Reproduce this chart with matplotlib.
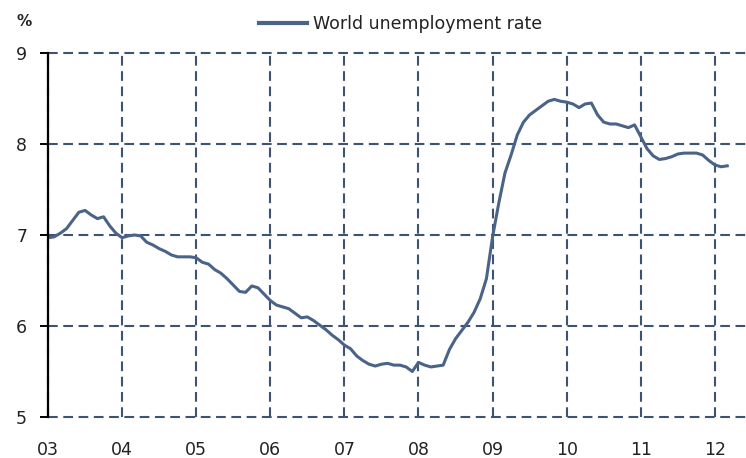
import matplotlib
matplotlib.use("Agg")
import matplotlib.pyplot as plt
import numpy as np

plt.rcParams["font.family"] = ["DejaVu Sans"]
plt.rcParams["lines.scale_dashes"] = False

# Monthly world unemployment rate (%), Jan 2003 onwards
rate = [
    6.97, 6.98, 7.02, 7.07, 7.16, 7.25, 7.27, 7.22, 7.18, 7.20, 7.10, 7.02,   # 2003
    6.97, 6.99, 7.00, 6.99, 6.92, 6.89, 6.85, 6.82, 6.78, 6.76, 6.76, 6.76,   # 2004
    6.75, 6.70, 6.68, 6.62, 6.58, 6.52, 6.45, 6.38, 6.37, 6.44, 6.42, 6.35,   # 2005
    6.28, 6.23, 6.21, 6.19, 6.14, 6.09, 6.10, 6.06, 6.01, 5.96, 5.90, 5.85,   # 2006
    5.79, 5.75, 5.67, 5.62, 5.58, 5.56, 5.58, 5.59, 5.57, 5.57, 5.55, 5.50,   # 2007
    5.60, 5.57, 5.55, 5.56, 5.57, 5.74, 5.86, 5.95, 6.04, 6.15, 6.30, 6.52,   # 2008
    6.98, 7.35, 7.68, 7.88, 8.10, 8.24, 8.32, 8.37, 8.42, 8.47, 8.49, 8.47,   # 2009
    8.46, 8.44, 8.40, 8.44, 8.45, 8.32, 8.24, 8.22, 8.22, 8.20, 8.18, 8.21,   # 2010
    8.08, 7.95, 7.87, 7.83, 7.84, 7.86, 7.89, 7.90, 7.90, 7.90, 7.88, 7.82,   # 2011
    7.77, 7.75, 7.76,                                                         # 2012
]
year_labels = ["03", "04", "05", "06", "07", "08", "09", "10", "11", "12"]
y_ticks = [5, 6, 7, 8, 9]
series_name = "World unemployment rate"

line_color = "#4a6387"
grid_color = "#3e5272"
text_color = "#222222"

t = np.arange(len(rate)) / 12.0

fig = plt.figure(figsize=(7.46, 4.58), dpi=100)
ax = fig.add_axes([48 / 746, 1 - 417 / 458, 698 / 746, 364 / 458])

ax.plot(t, rate, color=line_color, lw=2.2, solid_joinstyle="round",
        label=series_name, zorder=3)

ax.set_xlim(0, 9.42)
ax.set_ylim(5, 9)
ax.set_xticks(range(len(year_labels)))
ax.set_xticklabels(year_labels)
ax.set_yticks(y_ticks)

for side in ("top", "right", "bottom"):
    ax.spines[side].set_visible(False)
ax.spines["left"].set_color("black")
ax.spines["left"].set_linewidth(1.6)
ax.spines["left"].set_zorder(4)

ax.tick_params(axis="y", direction="out", length=6, width=1.4, color="black",
               labelsize=12.5, labelcolor=text_color, pad=9)
ax.tick_params(axis="x", length=0, labelsize=12.5, labelcolor=text_color, pad=17)
for lab in ax.get_xticklabels():
    lab.set_x(lab.get_position()[0])

ax.grid(True, color=grid_color, lw=1.5)
for gl in ax.get_xgridlines() + ax.get_ygridlines():
    gl.set_dashes((7, 4))
    gl.set_clip_on(False)

fig.text(24 / 746, 1 - 21 / 458, "%", fontsize=11, fontweight="bold",
         color=text_color, ha="center", va="center")

fig.legend(loc="center", bbox_to_anchor=(0.537, 1 - 24 / 458), frameon=False,
           fontsize=12.5, handlelength=2.8, handletextpad=0.35,
           labelcolor=text_color)
for h in fig.legends[0].get_lines():
    h.set_linewidth(3)

fig.savefig("out.png", dpi=100)
